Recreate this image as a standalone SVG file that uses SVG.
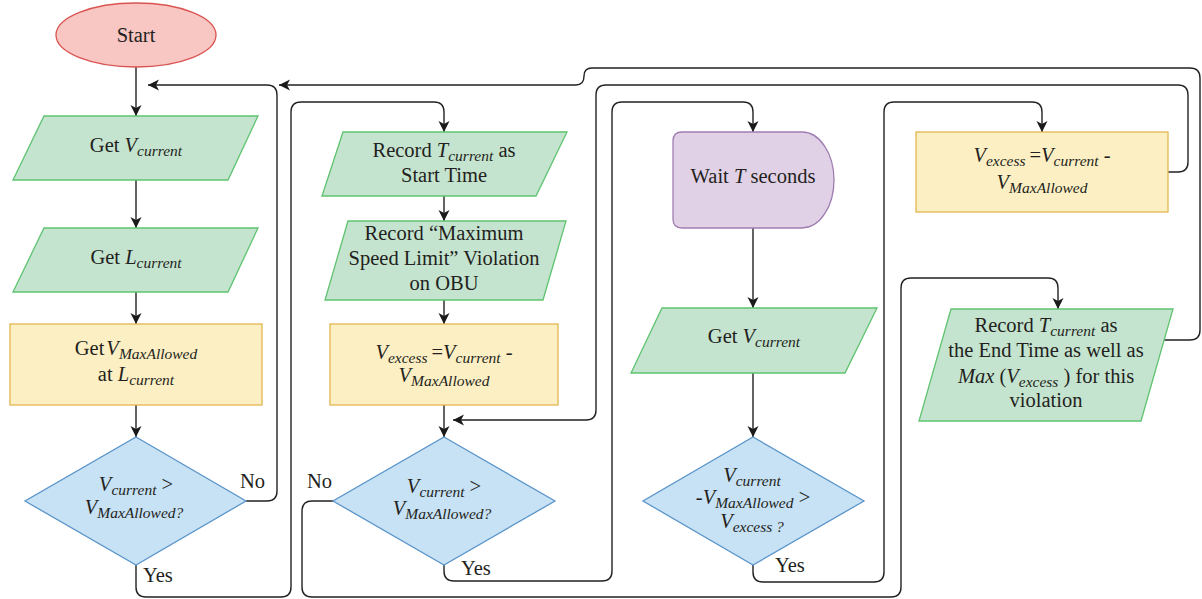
<svg xmlns="http://www.w3.org/2000/svg" width="1202" height="599" viewBox="0 0 1202 599">
  <style>
    .io { fill: #c5e4cf; stroke: #5ec36f; stroke-width: 1.3; }
    .proc { fill: #fdefc4; stroke: #e4b552; stroke-width: 1.3; }
    .dec { fill: #c7e1f5; stroke: #5b95c9; stroke-width: 1.3; }
    .delay { fill: #e0d1e6; stroke: #a07db1; stroke-width: 1.3; }
    .term { fill: #f8c6c3; stroke: #d95450; stroke-width: 1.3; }
    .edge { fill: none; stroke: #222; stroke-width: 1.4; }
    .arr { marker-end: url(#head); }
    text { font-family: "Liberation Serif", "DejaVu Serif", serif; font-size: 20.5px; fill: #231f20; text-anchor: middle; }
    .lbl { text-anchor: start; }
    .i { font-style: italic; }
    .s { font-style: italic; font-size: 15.5px; }
  </style>
  <defs>
    <marker id="head" markerUnits="userSpaceOnUse" markerWidth="12" markerHeight="12" viewBox="0 0 12 12" refX="11" refY="6" orient="auto">
      <path d="M0,0.5 L11,6 L0,11.5 L3,6 Z" fill="#1a1a1a"/>
    </marker>
  </defs>

  <!-- connectors -->
  <g id="edges">
    <path class="edge arr" d="M136,67 V116"/>
    <path class="edge arr" d="M136,180 V228"/>
    <path class="edge arr" d="M136,292 V324"/>
    <path class="edge arr" d="M136,405 V437"/>
    <!-- first check: No loops back -->
    <path class="edge arr" d="M246,501 H267 Q277,501 277,491 V95 Q277,85 267,85 H148"/>
    <!-- first check: Yes -->
    <path class="edge arr" d="M136,565 V587 Q136,597 146,597 H281 Q291,597 291,587 V112 Q291,102 301,102 H434 Q444,102 444,112 V132"/>
    <path class="edge arr" d="M444,196 V221"/>
    <path class="edge arr" d="M444,300 V324"/>
    <path class="edge arr" d="M444,405 V437"/>
    <!-- second check: Yes waits -->
    <path class="edge arr" d="M444,565 V571 Q444,581 454,581 H602 Q612,581 612,571 V112 Q612,102 622,102 H743 Q753,102 753,112 V132"/>
    <!-- second check: No records end -->
    <path class="edge arr" d="M333,501 H312 Q302,501 302,511 V587 Q302,597 312,597 H891 Q901,597 901,587 V288 Q901,278 911,278 H1048 Q1058,278 1058,288 V309"/>
    <path class="edge arr" d="M753,228 V308"/>
    <path class="edge arr" d="M753,373 V437"/>
    <!-- third check: Yes updates excess -->
    <path class="edge arr" d="M753,565 V572 Q753,582 763,582 H874 Q884,582 884,572 V112 Q884,102 894,102 H1032 Q1042,102 1042,112 V132"/>
    <!-- excess update returns to second check -->
    <path class="edge arr" d="M1168,172 H1178 Q1188,172 1188,162 V95 Q1188,85 1178,85 H606 Q596,85 596,95 V410 Q596,420 586,420 H453"/>
    <!-- end record returns to start of loop -->
    <path class="edge arr" d="M1164,340 H1190 Q1200,340 1200,330 V78 Q1200,68 1190,68 H592 Q584,68 584,76 Q584,85 576,85 H279"/>
  </g>

  <g id="start">
    <ellipse class="term" cx="136" cy="35" rx="80" ry="32"/>
    <text x="136" y="42">Start</text>
  </g>

  <g id="get-v1">
    <polygon class="io" points="44,116 258,116 228,180 13,180"/>
    <text x="136" y="152">Get <tspan class="i">V</tspan><tspan class="s" dy="4">current</tspan></text>
  </g>

  <g id="get-l">
    <polygon class="io" points="44,228 258,228 228,292 13,292"/>
    <text x="136" y="264">Get <tspan class="i">L</tspan><tspan class="s" dy="4">current</tspan></text>
  </g>

  <g id="get-vmax">
    <rect class="proc" x="10" y="324" width="252" height="81"/>
    <text x="136" y="355">Get<tspan class="i" dx="2">V</tspan><tspan class="s" dy="4">MaxAllowed</tspan></text>
    <text x="136" y="381">at <tspan class="i">L</tspan><tspan class="s" dy="4">current</tspan></text>
  </g>

  <g id="check1">
    <polygon class="dec" points="136,437 246,501 136,565 25,501"/>
    <text x="136" y="491"><tspan class="i">V</tspan><tspan class="s" dy="4">current</tspan><tspan dy="-4"> &gt;</tspan></text>
    <text x="134" y="514"><tspan class="i">V</tspan><tspan class="s" dy="4">MaxAllowed?</tspan></text>
    <text class="lbl" x="240" y="488">No</text>
    <text class="lbl" x="143" y="582">Yes</text>
  </g>

  <g id="record-start">
    <polygon class="io" points="343,132 567,132 536,196 322,196"/>
    <text x="444" y="157">Record <tspan class="i">T</tspan><tspan class="s" dy="4">current</tspan><tspan dy="-4"> as</tspan></text>
    <text x="444" y="182">Start Time</text>
  </g>

  <g id="record-violation">
    <polygon class="io" points="348,221 566,221 543,300 325,300"/>
    <text x="444" y="240">Record “Maximum</text>
    <text x="444" y="265">Speed Limit” Violation</text>
    <text x="444" y="290">on OBU</text>
  </g>

  <g id="excess1">
    <rect class="proc" x="330" y="324" width="228" height="81"/>
    <text x="444" y="359"><tspan class="i">V</tspan><tspan class="s" dy="4">excess</tspan><tspan dy="-4" dx="4">=</tspan><tspan class="i">V</tspan><tspan class="s" dy="4">current</tspan><tspan dy="-4"> -</tspan></text>
    <text x="444" y="382"><tspan class="i">V</tspan><tspan class="s" dy="4">MaxAllowed</tspan></text>
  </g>

  <g id="check2">
    <polygon class="dec" points="444,437 555,501 444,565 333,501"/>
    <text x="444" y="493"><tspan class="i">V</tspan><tspan class="s" dy="4">current</tspan><tspan dy="-4"> &gt;</tspan></text>
    <text x="442" y="515"><tspan class="i">V</tspan><tspan class="s" dy="4">MaxAllowed?</tspan></text>
    <text class="lbl" x="307" y="488">No</text>
    <text class="lbl" x="461" y="575">Yes</text>
  </g>

  <g id="wait">
    <path class="delay" d="M673,141 Q673,132 682,132 H802 A32,48 0 0 1 802,228 H682 Q673,228 673,219 Z"/>
    <text x="753" y="183">Wait <tspan class="i">T</tspan> seconds</text>
  </g>

  <g id="get-v2">
    <polygon class="io" points="662,308 877,308 845,373 631,373"/>
    <text x="754" y="343">Get <tspan class="i">V</tspan><tspan class="s" dy="4">current</tspan></text>
  </g>

  <g id="check3">
    <polygon class="dec" points="753,437 864,501 753,565 643,501"/>
    <text x="752" y="482"><tspan class="i">V</tspan><tspan class="s" dy="4">current</tspan></text>
    <text x="753" y="504">-<tspan class="i">V</tspan><tspan class="s" dy="4">MaxAllowed</tspan><tspan dy="-4"> &gt;</tspan></text>
    <text x="752" y="528"><tspan class="i">V</tspan><tspan class="s" dy="4">excess ?</tspan></text>
    <text class="lbl" x="775" y="572">Yes</text>
  </g>

  <g id="excess2">
    <rect class="proc" x="916" y="132" width="252" height="80"/>
    <text x="1042" y="162"><tspan class="i">V</tspan><tspan class="s" dy="4">excess</tspan><tspan dy="-4" dx="4">=</tspan><tspan class="i">V</tspan><tspan class="s" dy="4">current</tspan><tspan dy="-4"> -</tspan></text>
    <text x="1042" y="189"><tspan class="i">V</tspan><tspan class="s" dy="4">MaxAllowed</tspan></text>
  </g>

  <g id="record-end">
    <polygon class="io" points="951,309 1173,309 1141,421 919,421"/>
    <text x="1046" y="332">Record <tspan class="i">T</tspan><tspan class="s" dy="4">current</tspan><tspan dy="-4"> as</tspan></text>
    <text x="1046" y="357">the End Time as well as</text>
    <text x="1046" y="383"><tspan class="i">Max</tspan> (<tspan class="i">V</tspan><tspan class="s" dy="4">excess</tspan><tspan dy="-4"> ) for this</tspan></text>
    <text x="1046" y="407">violation</text>
  </g>
</svg>
